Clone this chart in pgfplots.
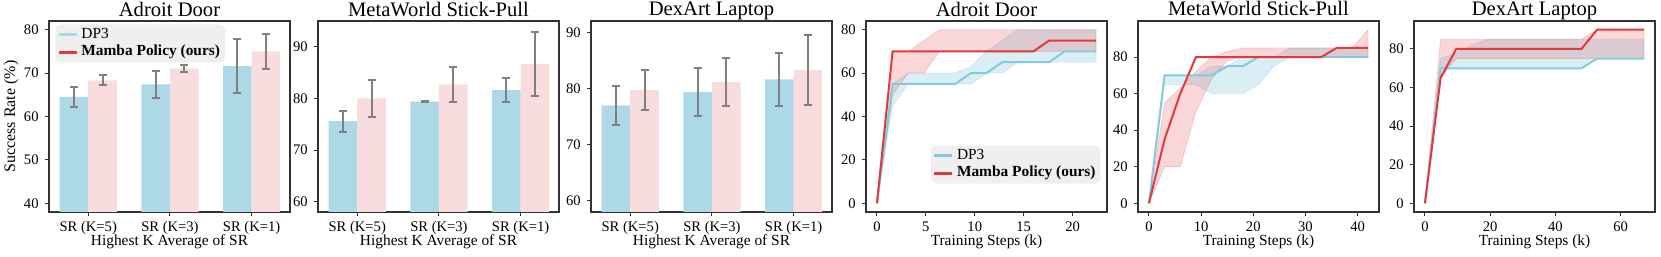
\documentclass[border=0pt]{standalone}
\usepackage{fontspec}
\setmainfont{Liberation Serif}
\usepackage{pgfplots}
\pgfplotsset{compat=1.18}

\definecolor{dpbar}{HTML}{ADD8E6}
\definecolor{mbbar}{HTML}{F9DCDD}
\definecolor{dpline}{HTML}{84CADD}
\definecolor{mbline}{HTML}{E0393E}
\definecolor{errgray}{HTML}{808080}
\definecolor{leggray}{HTML}{EFEFEF}

\newcommand{\tickfont}{\fontsize{7.3}{8.5}\selectfont}
\newcommand{\labfont}{\fontsize{7.7}{9}\selectfont}
\newcommand{\ylabfont}{\fontsize{8}{9.5}\selectfont}
\newcommand{\titfont}{\fontsize{10.3}{12}\selectfont}

\pgfplotsset{
  every axis title shift=0pt,
  base/.style={
    scale only axis, width=120.5pt, height=95.5pt, anchor=south west,
    axis line style={draw=black!80, line width=0.6pt},
    tick align=outside, tick pos=left,
    major tick length=2pt,
    every tick/.style={black!80, line width=0.5pt},
    tick label style={font=\tickfont},
    /pgf/number format/assume math mode=true,
    title style={font=\titfont, at={(0.5,1)}, anchor=base, yshift=2.5pt},
    label style={font=\labfont},
    xlabel style={at={(axis description cs:0.5,0)}, anchor=base, yshift=-16.8pt},
    xticklabel style={anchor=base, yshift=-7.9pt, inner sep=0pt},
    yticklabel style={anchor=east, xshift=-3pt, inner sep=0pt},
    legend cell align=left,
    legend image code/.code={\draw[##1, line width=1.5pt] (0pt,0pt) -- (9pt,0pt);},
    legend style={fill=leggray, draw=none, rounded corners=2.5pt, font=\labfont,
      inner xsep=0.9pt, inner ysep=0.8pt, row sep=0pt,
      nodes={inner ysep=1pt, inner xsep=1.6pt}},
  },
  barax/.style={base, xmin=-0.48, xmax=2.47, xtick={0,1,2},
    xticklabels={{SR (K=5)},{SR (K=3)},{SR (K=1)}}, xlabel={Highest K Average of SR}},
  bars/.style={ybar, bar width=0.35, bar shift=0pt, fill=#1, draw=none, forget plot,
    error bars/.cd, y dir=both, y explicit,
    error bar style={draw=errgray, line width=1pt},
    error mark options={draw=errgray, mark size=2pt, line width=1pt, rotate=90}},
  lineax/.style={base, xlabel={Training Steps (k)}},
  dpband/.style={fill=dpline, fill opacity=0.3, draw=dpline, draw opacity=0.3, line width=0.4pt, forget plot},
  mbband/.style={fill=mbline, fill opacity=0.2, draw=mbline, draw opacity=0.2, line width=0.4pt, forget plot},
  dpmean/.style={dpline, line width=1pt, forget plot},
  mbmean/.style={mbline, line width=1pt, forget plot},
}

\begin{document}
\begin{tikzpicture}
\path[use as bounding box] (0,0) rectangle (830.5pt,128.5pt);

% ---------- Panel 1 ----------
\begin{axis}[barax, at={(24.5pt,22.5pt)}, title={Adroit Door},
  ymin=38, ymax=82, ytick={40,50,60,70,80},
  ylabel={Success Rate (\%)},
  ylabel style={font=\ylabfont, at={(axis description cs:-0.141,0.5)}, anchor=base},
  legend style={at={(0.025,0.984)}, anchor=north west}]
\addplot[bars=dpbar] coordinates {(-0.175,64.5) +- (0,2.4) (0.825,67.4) +- (0,3.1) (1.825,71.6) +- (0,6.2)};
\addplot[bars=mbbar] coordinates {(0.175,68.3) +- (0,1.15) (1.175,71.1) +- (0,0.75) (2.175,75.0) +- (0,4.0)};
\addlegendimage{dpbar}
\addlegendentry{DP3}
\addlegendimage{mbline}
\addlegendentry{\textbf{Mamba Policy (ours)}}
\end{axis}

% ---------- Panel 2 ----------
\begin{axis}[barax, at={(159pt,22.5pt)}, title={MetaWorld Stick-Pull},
  ymin=58, ymax=95, ytick={60,70,80,90}]
\addplot[bars=dpbar] coordinates {(-0.175,75.6) +- (0,2.05) (0.825,79.4) +- (0,0.1) (1.825,81.6) +- (0,2.3)};
\addplot[bars=mbbar] coordinates {(0.175,80.0) +- (0,3.65) (1.175,82.7) +- (0,3.35) (2.175,86.7) +- (0,6.2)};
\end{axis}

% ---------- Panel 3 ----------
\begin{axis}[barax, at={(295.5pt,22.5pt)}, title={DexArt Laptop},
  ymin=58, ymax=92, ytick={60,70,80,90}]
\addplot[bars=dpbar] coordinates {(-0.175,77.0) +- (0,3.5) (0.825,79.4) +- (0,4.3) (1.825,81.6) +- (0,4.75)};
\addplot[bars=mbbar] coordinates {(0.175,79.7) +- (0,3.6) (1.175,81.1) +- (0,4.3) (2.175,83.3) +- (0,6.2)};
\end{axis}

% ---------- Panel 4 ----------
\begin{axis}[lineax, at={(433pt,22.5pt)}, title={Adroit Door},
  xmin=-1.12, xmax=23.52, ymin=-4, ymax=84,
  xtick={0,5,10,15,20}, ytick={0,20,40,60,80},
  legend style={at={(0.975,0.147)}, anchor=south east}]
\addplot[dpband] coordinates {(0,0) (1.6,55) (3.2,60) (8.0,60) (9.6,63) (11.2,70) (12.8,75) (14.4,80) (22.4,80)
  (22.4,65) (14.4,65) (12.8,60) (11.2,60) (9.6,55) (3.2,55) (1.6,45) (0,0)};
\addplot[mbband] coordinates {(0,0) (1.6,70) (3.2,70) (4.8,75) (6.4,80) (22.4,80)
  (22.4,70) (6.4,70) (4.8,60) (3.2,60) (1.6,50) (0,0)};
\addplot[dpmean] coordinates {(0,0) (1.6,55) (8.0,55) (9.6,60) (11.2,60) (12.8,65) (17.6,65) (19.2,70) (22.4,70)};
\addplot[mbmean] coordinates {(0,0) (1.6,70) (16.0,70) (17.6,75) (22.4,75)};
\addlegendimage{dpline}
\addlegendentry{DP3}
\addlegendimage{mbline}
\addlegendentry{\textbf{Mamba Policy (ours)}}
\end{axis}

% ---------- Panel 5 ----------
\begin{axis}[lineax, at={(569pt,22.5pt)}, title={MetaWorld Stick-Pull},
  xmin=-2.1, xmax=44.1, ymin=-4.75, ymax=99.75,
  xtick={0,10,20,30,40}, ytick={0,20,40,60,80}]
\addplot[dpband] coordinates {(0,0) (3,70) (9,70) (12,75) (15,75) (18,80) (24,80) (27,85) (42,85)
  (42,80) (27,80) (24,75) (21,65) (18,60) (12,60) (9,65) (3,65) (0,0)};
\addplot[mbband] coordinates {(0,0) (3,55) (6,63) (9,72) (12,80) (15,83) (18,85) (39,85) (42,95)
  (42,80) (18,80) (15,78) (12,68) (9,50) (6,20) (3,20) (0,0)};
\addplot[dpmean] coordinates {(0,0) (3,70) (12,70) (15,75) (18,75) (21,80) (42,80)};
\addplot[mbmean] coordinates {(0,0) (3,35) (6,60) (9,80) (33,80) (36,85) (42,85)};
\end{axis}

% ---------- Panel 6 ----------
\begin{axis}[lineax, at={(707pt,22.5pt)}, title={DexArt Laptop},
  xmin=-3.36, xmax=70.56, ymin=-4.5, ymax=94.5,
  xtick={0,20,40,60}, ytick={0,20,40,60,80}]
\addplot[dpband] coordinates {(0,0) (4.8,75) (9.6,78) (14.4,82) (19.2,85) (67.2,85)
  (67.2,75) (52.8,75) (48.0,70) (4.8,70) (0,0)};
\addplot[mbband] coordinates {(0,0) (4.8,85) (48.0,85) (52.8,90) (67.2,90)
  (67.2,75) (9.6,75) (4.8,65) (0,0)};
\addplot[dpmean] coordinates {(0,0) (4.8,70) (48.0,70) (52.8,75) (67.2,75)};
\addplot[mbmean] coordinates {(0,0) (4.8,65) (9.6,80) (48.0,80) (52.8,90) (67.2,90)};
\end{axis}
\end{tikzpicture}
\end{document}
